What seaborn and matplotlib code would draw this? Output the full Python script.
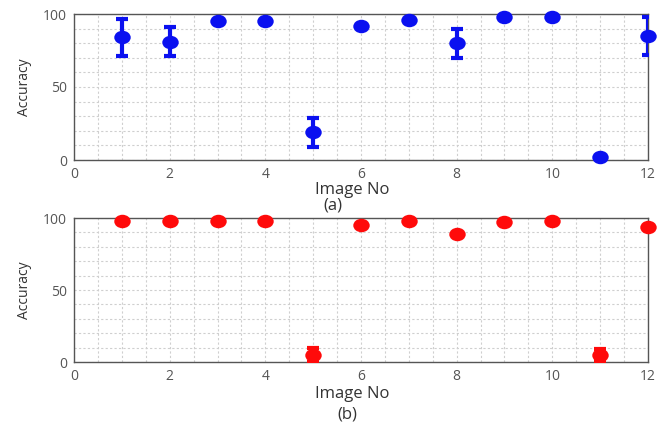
import numpy as np
import pandas as pd
import matplotlib
matplotlib.use("Agg")
import matplotlib.pyplot as plt
import seaborn as sns
from matplotlib.ticker import MultipleLocator
from matplotlib.path import Path

image_no = [1, 2, 3, 4, 5, 6, 7, 8, 9, 10, 11, 12]
acc_a = [84, 81, 95, 95, 19, 92, 96, 80, 98, 98, 2, 85]
err_a = [12.5, 10, 0, 0, 10, 0, 0, 10, 0, 0, 0, 13]
acc_b = [98, 98, 98, 98, 5, 95, 98, 89, 97, 98, 5, 94]
err_b = [0, 0, 0, 0, 5, 0, 0, 0, 0, 0, 4, 0]
x_ticks = [0, 2, 4, 6, 8, 10, 12]
y_ticks = [0, 50, 100]

sns.set_style("white")
plt.rcParams['font.family'] = ['Open Sans', 'DejaVu Sans']

circ = Path.unit_circle()
ellipse = Path(circ.vertices * np.array([1.0, 0.82]), circ.codes)

fig = plt.figure(figsize=(6.57, 4.26), dpi=100)
W, H = 657, 426
ax_a = fig.add_axes([74 / W, 1 - 160 / H, (648 - 74) / W, (160 - 14) / H])
ax_b = fig.add_axes([74 / W, 1 - 362 / H, (648 - 74) / W, (362 - 218) / H])

panels = [
    (ax_a, acc_a, err_a, "#0a10f0", "(a)", -0.205, 0.451, -0.31),
    (ax_b, acc_b, err_b, "#ff0a0a", "(b)", -0.22, 0.476, -0.368),
]
for ax, acc, err, col, tag, xl_y, tag_x, tag_y in panels:
    df = pd.DataFrame({"Image No": image_no, "Accuracy": acc, "err": err})
    e = df[df["err"] > 0]
    ax.errorbar(e["Image No"], e["Accuracy"], yerr=e["err"], fmt="none",
                ecolor=col, elinewidth=3.0, capsize=4.5, capthick=3.0, zorder=3)
    sns.scatterplot(data=df, x="Image No", y="Accuracy", ax=ax, color=col,
                    s=140, marker=ellipse, edgecolor=col, linewidth=0,
                    zorder=4, clip_on=False)
    ax.set_xlim(0, 12)
    ax.set_ylim(0, 100)
    ax.set_xticks(x_ticks)
    ax.set_yticks(y_ticks)
    ax.xaxis.set_minor_locator(MultipleLocator(0.5))
    ax.yaxis.set_minor_locator(MultipleLocator(10))
    ax.grid(True, which="both", linestyle=(0, (2, 2)), color="#cfcfcf", linewidth=0.8)
    ax.set_axisbelow(True)
    ax.tick_params(axis="both", which="major", direction="in", length=3,
                   color="#444444", labelsize=10, labelcolor="#555555", pad=5)
    ax.tick_params(axis="both", which="minor", length=0)
    for s in ax.spines.values():
        s.set_color("#555555")
        s.set_linewidth(1.0)
    ax.set_xlabel("")
    ax.set_ylabel("Accuracy", fontsize=10, color="#333333", labelpad=8)
    ax.text(0.484, xl_y, "Image No", transform=ax.transAxes, ha="center",
            va="center", fontsize=12, color="#333333")
    ax.text(tag_x, tag_y, tag, transform=ax.transAxes, ha="center", va="center",
            fontsize=12, color="#333333")

fig.savefig("out.png", dpi=100, facecolor="white")
